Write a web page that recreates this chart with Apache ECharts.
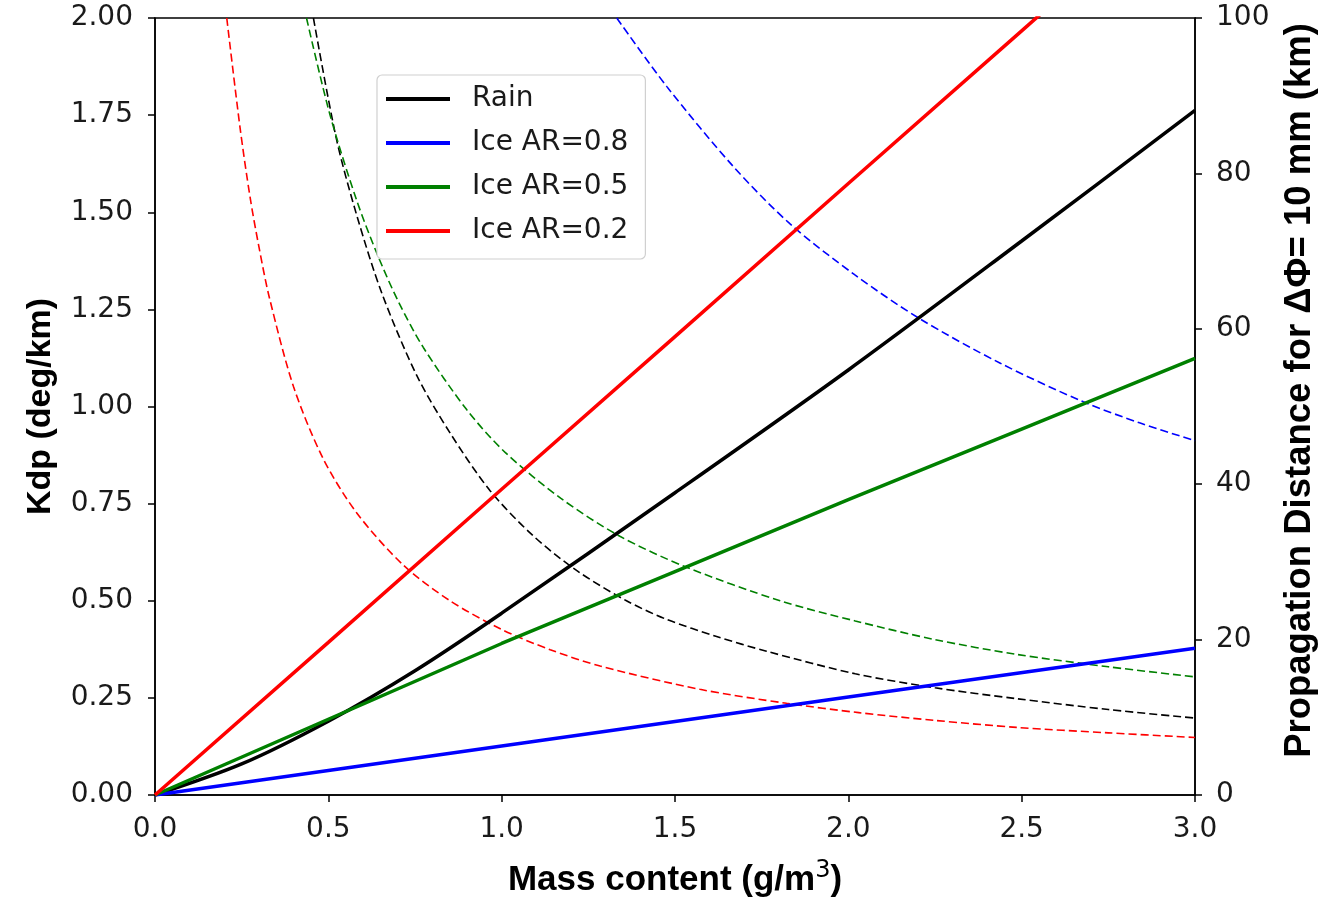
<!DOCTYPE html>
<html>
<head>
<meta charset="utf-8">
<script src="https://cdn.jsdelivr.net/npm/echarts@6/dist/echarts.min.js"></script>
<style>
  html, body { margin: 0; padding: 0; background: #fff; }
  #chart { width: 1344px; height: 897px; }
</style>
</head>
<body>
<div id="chart"></div>
<script>
// Kdp (deg/km), [mass content, kdp]
var rainKdp  = [[0,0],[0.25,0.08],[0.5,0.19],[0.75,0.32],[1,0.468],[1.5,0.778],[2,1.094],[2.5,1.426],[3,1.762]];
var ice08Kdp = [[0,0],[1,0.126],[2,0.252],[3,0.378]];
var ice05Kdp = [[0,0],[0.5,0.195],[1,0.39],[1.5,0.575],[2,0.76],[2.5,0.942],[3,1.124]];
var ice02Kdp = [[0,0],[0.5,0.393],[1,0.787],[1.5,1.18],[2,1.574],[2.5,1.967],[3,2.36]];

// propagation distance (km), [mass content, km]
var rainDist  = [[0.457,100],[0.523,84.5],[0.582,74.6],[0.655,64.5],[0.755,54],[0.851,46.6],[0.966,39.2],
                 [1.09,33.4],[1.216,28.9],[1.36,25.0],[1.476,22.6],[1.62,20.4],[1.764,18.5],[2.02,15.6],
                 [2.25,13.8],[2.485,12.4],[2.75,11.0],[3.0,9.9]];
var ice08Dist = [[1.332,100],[1.476,91.2],[1.668,80.9],[1.832,73.5],[2.02,66.9],[2.206,61.3],
                 [2.437,55.6],[2.678,50.6],[2.84,47.9],[3.0,45.6]];
var ice05Dist = [[0.437,100],[0.505,87.5],[0.582,76.5],[0.642,69.5],[0.702,63.5],[0.774,57.6],[0.899,49.6],
                 [1.01,44.1],[1.17,38.2],[1.341,33.3],[1.534,29.3],[1.803,25.0],[2.02,22.4],[2.25,20.0],
                 [2.485,18.1],[2.75,16.5],[3.0,15.2]];
var ice02Dist = [[0.207,100],[0.245,86],[0.274,77],[0.3,70.5],[0.33,64],[0.4,52.5],[0.485,43.3],[0.582,36.3],
                 [0.716,29.6],[0.851,25.0],[1.0,21.3],[1.14,18.7],[1.284,16.6],[1.572,13.6],[1.822,11.8],
                 [2.03,10.6],[2.25,9.6],[2.485,8.7],[2.75,8.0],[3.0,7.4]];

var names  = ['Rain', 'Ice AR=0.8', 'Ice AR=0.5', 'Ice AR=0.2'];
var colors = ['#000000', '#0000ff', '#008000', '#ff0000'];

var tickFont = { color: '#1a1a1a', fontSize: 28, fontFamily: 'DejaVu Sans' };
var titleFont = { color: '#000', fontSize: 35, fontWeight: 'bold', fontFamily: 'Liberation Sans' };

function solid(name, data, i) {
    return {
        name: name, type: 'line', data: data, yAxisIndex: 0,
        showSymbol: false, symbol: 'none', smooth: i === 0 ? 0.3 : false,
        lineStyle: { color: colors[i], width: 3.5 },
        itemStyle: { color: colors[i] },
        z: 3
    };
}
function dashed(name, data, i) {
    return {
        name: name, type: 'line', data: data, yAxisIndex: 1,
        showSymbol: false, symbol: 'none', smooth: 0.3,
        lineStyle: { color: colors[i], width: 1.6, type: [8, 4] },
        itemStyle: { color: colors[i] },
        z: 2
    };
}

var chart = echarts.init(document.getElementById('chart'));
chart.setOption({
    animation: false,
    backgroundColor: '#fff',
    grid: {
        left: 155, right: 149, top: 18, bottom: 102,
        outerBoundsMode: 'none', containLabel: false,
        show: true, borderColor: '#000', borderWidth: 1.5, backgroundColor: 'transparent'
    },
    legend: {
        data: names,
        orient: 'vertical',
        left: 377, top: 75,
        icon: 'rect',
        itemWidth: 64, itemHeight: 4,
        itemGap: 16,
        padding: [10, 17, 14, 9],
        borderColor: '#d0d0d0', borderWidth: 1.2, borderRadius: 5,
        backgroundColor: '#fff',
        textStyle: { color: '#1a1a1a', fontSize: 28, fontFamily: 'DejaVu Sans', padding: [0, 0, 0, 17] }
    },
    xAxis: {
        type: 'value', min: 0, max: 3, interval: 0.5,
        name: '{b|Mass content (g/m}{s|3}{b|)}',
        nameLocation: 'middle', nameGap: 64,
        nameTextStyle: {
            rich: {
                b: titleFont,
                s: { color: '#000', fontSize: 24, fontFamily: 'DejaVu Sans', verticalAlign: 'top', padding: [0, 0, 18, 0] }
            }
        },
        axisLine: { show: true, lineStyle: { color: '#000', width: 1.5 } },
        axisTick: { show: true, inside: false, length: 7, lineStyle: { color: '#000', width: 1.5 } },
        axisLabel: Object.assign({ margin: 21, formatter: function (v) { return v.toFixed(1); } }, tickFont),
        splitLine: { show: false }
    },
    yAxis: [
        {
            type: 'value', min: 0, max: 2, interval: 0.25, position: 'left',
            name: 'Kdp (deg/km)', nameLocation: 'middle', nameGap: 97,
            nameTextStyle: Object.assign({}, titleFont, { fontSize: 34 }),
            axisLine: { show: true, lineStyle: { color: '#000', width: 1.5 } },
            axisTick: { show: true, inside: false, length: 7, lineStyle: { color: '#000', width: 1.5 } },
            axisLabel: Object.assign({ margin: 22, formatter: function (v) { return v.toFixed(2); } }, tickFont),
            splitLine: { show: false }
        },
        {
            type: 'value', min: 0, max: 100, interval: 20, position: 'right',
            name: 'Propagation Distance for ΔΦ= 10 mm (km)', nameLocation: 'middle', nameGap: 86,
            nameRotate: 90,
            nameTextStyle: Object.assign({}, titleFont, { fontSize: 36.5, padding: [0, 0, 0, 32] }),
            axisLine: { show: true, lineStyle: { color: '#000', width: 1.5 } },
            axisTick: { show: true, inside: false, length: 7, lineStyle: { color: '#000', width: 1.5 } },
            axisLabel: Object.assign({ margin: 21 }, tickFont),
            splitLine: { show: false }
        }
    ],
    series: [
        dashed('Rain dist', rainDist, 0),
        dashed('Ice AR=0.8 dist', ice08Dist, 1),
        dashed('Ice AR=0.5 dist', ice05Dist, 2),
        dashed('Ice AR=0.2 dist', ice02Dist, 3),
        solid(names[0], rainKdp, 0),
        solid(names[1], ice08Kdp, 1),
        solid(names[2], ice05Kdp, 2),
        solid(names[3], ice02Kdp, 3)
    ]
});
</script>
</body>
</html>
